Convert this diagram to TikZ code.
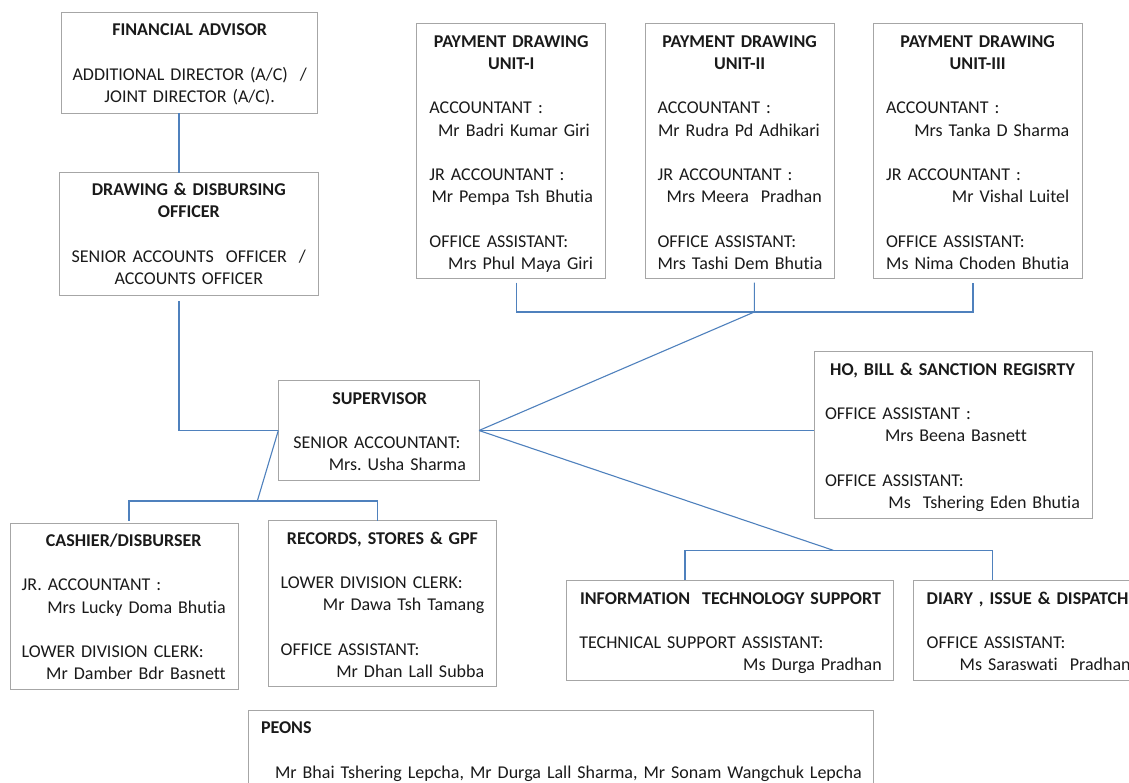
\documentclass[tikz,border=0pt]{standalone}
\usepackage{fontspec}
\setmainfont{Carlito}[Ligatures={TeX,NoCommon}]
\usetikzlibrary{calc}
\definecolor{boxgray}{HTML}{A6A6A6}
\definecolor{linkblue}{HTML}{4F81BD}
\definecolor{ink}{HTML}{1A1A1A}
\hyphenpenalty=10000
\exhyphenpenalty=10000
\newcommand\Vgap{\par\vspace{22.2pt}}
\newcommand\Ttl[1]{{\centering\bfseries #1\par}}
\newcommand\Ctr[1]{{\centering #1\par}}
\newcommand\Rgt{\hspace*{\fill}}
\tikzset{
  box/.style={draw=boxgray, line width=1pt, rectangle, inner sep=0pt, outer sep=0pt, anchor=north west},
  txt/.style={anchor=north west, inner sep=0pt, outer sep=0pt, text width=#1, text=ink,
              font=\fontsize{18pt}{22.2pt}\selectfont},
  link/.style={draw=linkblue, line width=1.1pt}
}
\begin{document}
\begin{tikzpicture}[x=1pt,y=-1pt]
\useasboundingbox (0,0) rectangle (1129,782);
\fill[white] (0,0) rectangle (1129,782);
\begin{scope}
\clip (0,0) rectangle (1129,782);
% boxes
\node[box, minimum width=256pt, minimum height=100.6pt] (fa) at (61.7,12.7) {};
\node[box, minimum width=259pt, minimum height=122.6pt] (ddo) at (59.3,172.7) {};
\node[box, minimum width=189pt, minimum height=255pt] (pdu1) at (416.7,23.3) {};
\node[box, minimum width=188.7pt, minimum height=255pt] (pdu2) at (645.5,23.3) {};
\node[box, minimum width=208.7pt, minimum height=255pt] (pdu3) at (873.3,23.3) {};
\node[box, minimum width=200.7pt, minimum height=99.6pt] (sup) at (278.3,380.7) {};
\node[box, minimum width=278pt, minimum height=166.6pt] (ho) at (814,351.7) {};
\node[box, minimum width=228.7pt, minimum height=165.7pt] (cash) at (10,523.3) {};
\node[box, minimum width=228.4pt, minimum height=166pt] (rec) at (268.3,520.7) {};
\node[box, minimum width=327.3pt, minimum height=100.7pt] (it) at (566,580) {};
\node[box, minimum width=232pt, minimum height=100.7pt] (dia) at (913.3,580) {};
\node[box, minimum width=625pt, minimum height=100pt] (peons) at (248.3,710.7) {};

% texts
\node[txt=240pt] (fa-t) at ($(fa.north west)+(8,7.5)$)
  {\strut\Ttl{FINANCIAL~ADVISOR}\Vgap\Ctr{ADDITIONAL~DIRECTOR~(A/C)~~/\\JOINT~DIRECTOR~(A/C).}};
\node[txt=243pt] (ddo-t) at ($(ddo.north west)+(8,7.5)$)
  {\strut\Ttl{DRAWING~\&~DISBURSING\\OFFICER}\Vgap\Ctr{SENIOR~ACCOUNTS~~OFFICER~~/\\ACCOUNTS~OFFICER}};
\node[txt=163.6pt] (pdu1-t) at ($(pdu1.north west)+(12.7,8.5)$)
  {\strut\Ttl{PAYMENT~DRAWING\\UNIT-I}\Vgap
   ACCOUNTANT~:\\\hspace*{8.7pt}Mr~Badri~Kumar~Giri\Vgap
   JR~ACCOUNTANT~:\\\Rgt Mr~Pempa~Tsh~Bhutia\Vgap
   OFFICE~ASSISTANT:\\\Rgt Mrs~Phul~Maya~Giri\par};
\node[txt=164.2pt] (pdu2-t) at ($(pdu2.north west)+(12,8.5)$)
  {\strut\Ttl{PAYMENT~DRAWING\\UNIT-II}\Vgap
   ACCOUNTANT~:\\\Rgt Mr~Rudra~Pd~Adhikari\kern2pt\Vgap
   JR~ACCOUNTANT~:\\\Rgt Mrs~Meera~~Pradhan\Vgap
   OFFICE~ASSISTANT:\\\Rgt Mrs~Tashi~Dem~Bhutia\par};
\node[txt=183.3pt] (pdu3-t) at ($(pdu3.north west)+(12.7,8.5)$)
  {\strut\Ttl{PAYMENT~DRAWING\\UNIT-III}\Vgap
   ACCOUNTANT~:\\\Rgt Mrs~Tanka~D~Sharma\Vgap
   JR~ACCOUNTANT~:\\\Rgt Mr~Vishal~Luitel\Vgap
   OFFICE~ASSISTANT:\\\Rgt Ms~Nima~Choden~Bhutia\par};
\node[txt=172.7pt] (sup-t) at ($(sup.north west)+(15,7.8)$)
  {\strut\Ttl{SUPERVISOR}\Vgap
   SENIOR~ACCOUNTANT:\\\Rgt Mrs.~Usha~Sharma\par};
\node[txt=255pt] (ho-t) at ($(ho.north west)+(11,7.8)$)
  {\strut\Ttl{HO,~BILL~\&~SANCTION~REGISRTY}\Vgap
   OFFICE~ASSISTANT~:\\\hspace*{60pt}Mrs~Beena~Basnett\Vgap
   OFFICE~ASSISTANT:\\\Rgt Ms~~Tshering~Eden~Bhutia\par};
\node[txt=204pt] (cash-t) at ($(cash.north west)+(11.7,7.6)$)
  {\strut\Ttl{CASHIER/DISBURSER}\Vgap
   JR.~ACCOUNTANT~:\\\Rgt Mrs~Lucky~Doma~Bhutia\Vgap
   LOWER~DIVISION~CLERK:\\\Rgt Mr~Damber~Bdr~Basnett\par};
\node[txt=203.6pt] (rec-t) at ($(rec.north west)+(12.4,7.8)$)
  {\strut\Ttl{RECORDS,~STORES~\&~GPF}\Vgap
   LOWER~DIVISION~CLERK:\\\Rgt Mr~Dawa~Tsh~Tamang\Vgap
   OFFICE~ASSISTANT:\\\Rgt Mr~Dhan~Lall~Subba\par};
\node[txt=302.4pt] (it-t) at ($(it.north west)+(13.3,8.5)$)
  {\strut\Ttl{INFORMATION~~TECHNOLOGY~SUPPORT}\Vgap
   TECHNICAL~SUPPORT~ASSISTANT:\\\Rgt Ms~Durga~Pradhan\par};
\node[txt=210pt] (dia-t) at ($(dia.north west)+(13.4,8.5)$)
  {\strut\textbf{DIARY~,~ISSUE~\&~DISPATCH}\Vgap
   OFFICE~ASSISTANT:\\\hspace*{33pt}Ms~Saraswati~~Pradhan\par};
\node[txt=620pt] (peons-t) at ($(peons.north west)+(12.7,7.5)$)
  {\strut\textbf{PEONS}\Vgap
   \hspace*{14pt}Mr~Bhai~Tshering~Lepcha,~Mr~Durga~Lall~Sharma,~Mr~Sonam~Wangchuk~Lepcha\par};

% connectors
\coordinate (jA) at (179,0);
\draw[link] (fa.south -| jA) -- (ddo.north -| jA);
\draw[link] ($(ddo.south -| jA)+(0,6)$) -- (jA |- sup.west) -- (sup.west);
\coordinate (sbus) at (257.3,501);
\coordinate (cA) at (129,501);
\coordinate (rA) at (377.3,501);
\draw[link] (sup.west) -- (sbus);
\draw[link] ($(cA |- cash.north)+(0,-2.6)$) -- (cA) -- (rA) -- (rA |- rec.north);
\coordinate (p1) at (516.3,312);
\coordinate (p2) at (754.3,312);
\coordinate (p3) at (973,312);
\draw[link] ($(p1 |- pdu1.south)+(0,4.4)$) -- (p1) -- (p3) -- ($(p3 |- pdu3.south)+(0,4.4)$);
\draw[link] ($(p2 |- pdu2.south)+(0,4.4)$) -- (p2) -- (sup.east);
\draw[link] (sup.east) -- (sup.east -| ho.west);
\coordinate (q) at (833.3,550.3);
\coordinate (q1) at (685,550.3);
\coordinate (q2) at (992.7,550.3);
\draw[link] (sup.east) -- (q);
\draw[link] (q1 |- it.north) -- (q1) -- (q2) -- (q2 |- dia.north);
\end{scope}
\end{tikzpicture}
\end{document}
